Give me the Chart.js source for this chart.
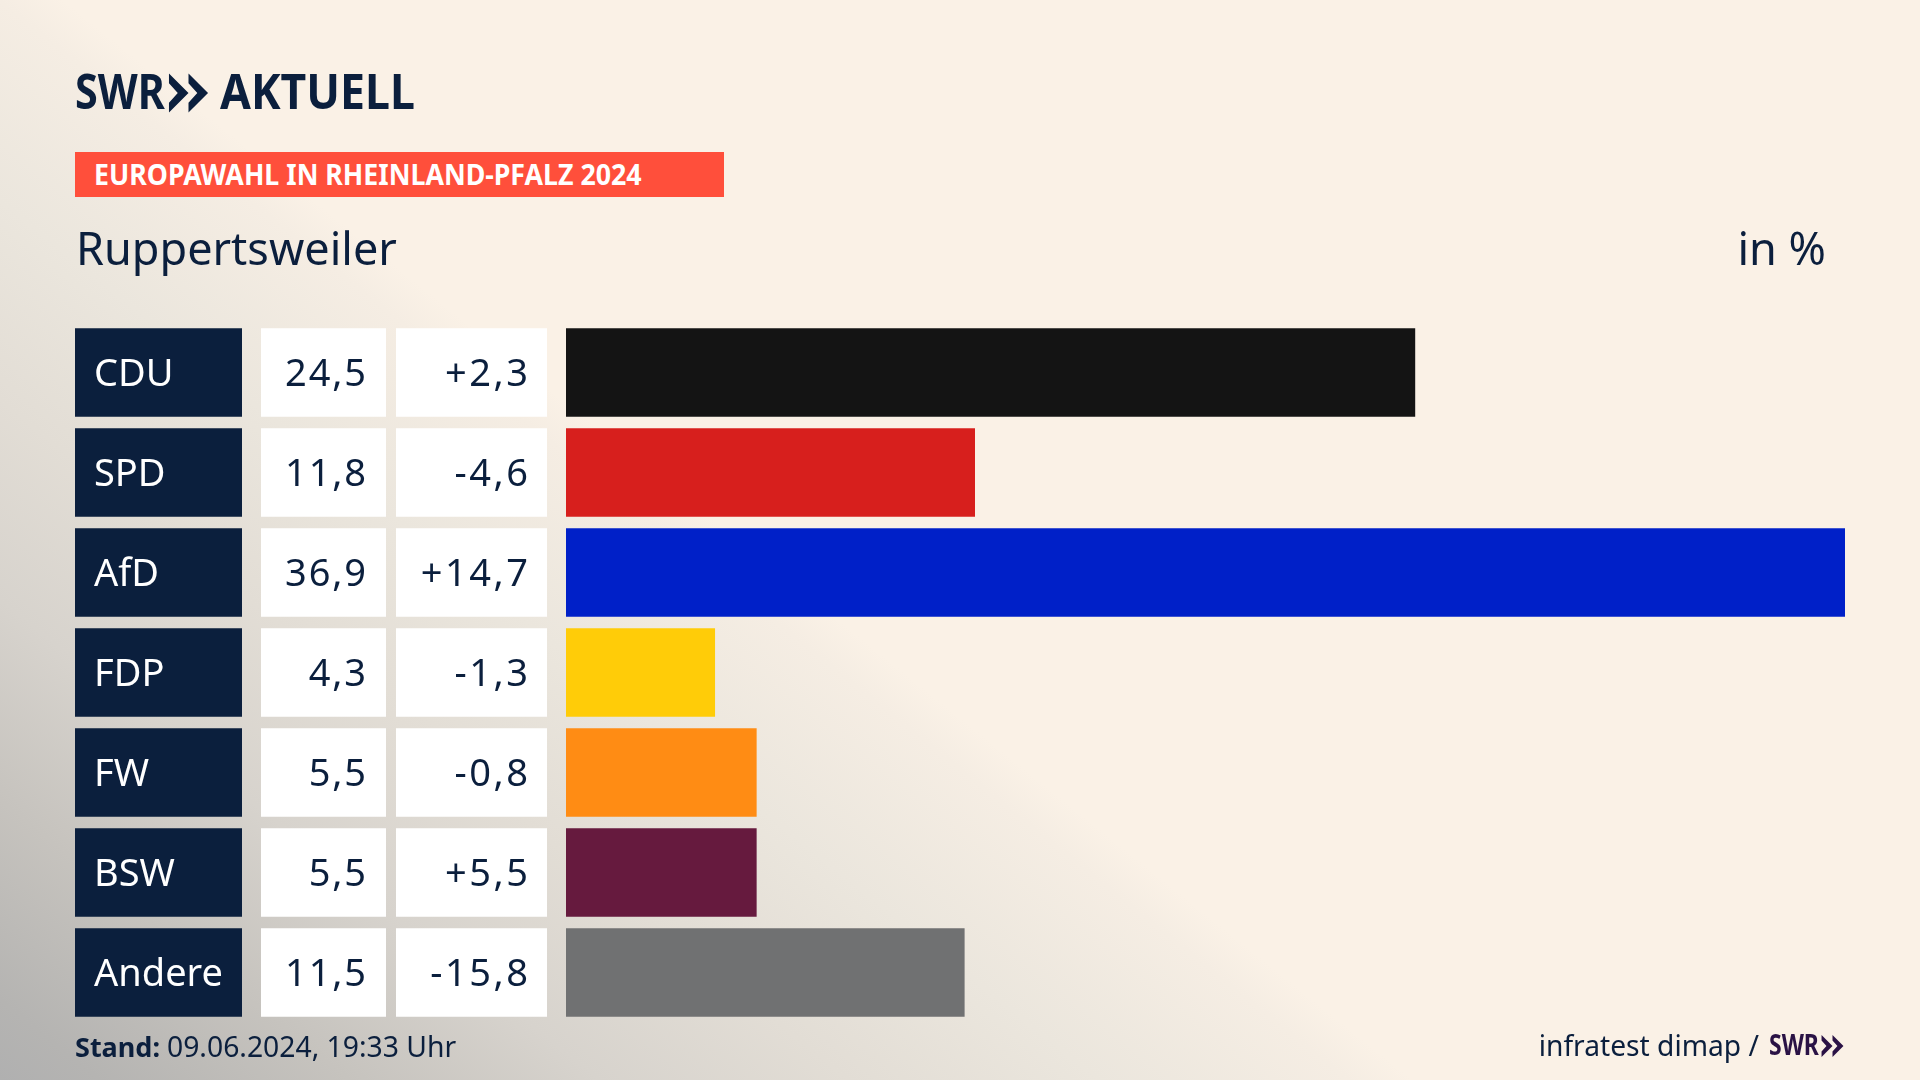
<!DOCTYPE html>
<html lang="de">
<head>
<meta charset="utf-8">
<title>Europawahl in Rheinland-Pfalz 2024 - Ruppertsweiler</title>
<script src="https://cdn.jsdelivr.net/npm/chart.js@4"></script>
<style>
  html, body { margin: 0; padding: 0; }
  body {
    width: 1920px; height: 1080px; overflow: hidden; position: relative;
    font-family: "Noto Sans", sans-serif; color: #0b1f3d;
    background: linear-gradient(218.66deg,
      #faf1e6 1160px, #f5ede3 1200px, #ebe6dd 1356px, #e2ddd5 1512px,
      #d7d3cd 1668px, #c6c3be 1824px, #b5b4b2 1980px, #b0b0b0 2043px);
  }
  #myChart { position: absolute; left: 0; top: 0; }
  .txt { position: absolute; white-space: nowrap; line-height: 1; }
  .logo { font-weight: 700; transform-origin: left top; }
  #tag { position: absolute; left: 75px; top: 152px; width: 649px; height: 45px; background: #ff4f3b; }
  svg { position: absolute; }
</style>
</head>
<body>
<canvas id="myChart" width="1920" height="1080"></canvas>

<div class="txt logo" style="left:75px; top:67px; font-size:48px; transform:scaleX(0.86);">SWR</div>
<svg style="left:168px; top:73px;" width="41" height="40" viewBox="0 0 42 40">
  <path d="M1 0 L21 20 L1 40 L1 30 L10 20 L1 10 Z M21 0 L41 20 L21 40 L21 30 L30 20 L21 10 Z" fill="#0b1f3d"/>
</svg>
<div class="txt logo" style="left:220px; top:67px; font-size:48px; transform:scaleX(0.93);">AKTUELL</div>

<div id="tag"></div>
<div class="txt" style="left:94px; top:160px; font-size:28px; font-weight:700; color:#fff; transform-origin:left top; transform:scaleX(0.955);">EUROPAWAHL IN RHEINLAND-PFALZ 2024</div>

<div class="txt" style="left:76px; top:225px; font-size:45px;">Ruppertsweiler</div>
<div class="txt" style="right:94px; top:225px; font-size:45px;">in %</div>

<div class="txt" style="left:75px; top:1033px; font-size:27px; font-weight:700;">Stand:</div>
<div class="txt" style="left:167px; top:1032px; font-size:28.3px;">09.06.2024, 19:33 Uhr</div>
<div class="txt" style="right:161px; top:1031px; font-size:28.2px;">infratest dimap /</div>
<div class="txt logo" style="left:1769px; top:1030px; font-size:28px; color:#2a1245; transform:scaleX(0.82);">SWR</div>
<svg style="left:1821px; top:1035px;" width="23" height="22" viewBox="0 0 42 40">
  <path d="M1 0 L21 20 L1 40 L1 30 L10 20 L1 10 Z M21 0 L41 20 L21 40 L21 30 L30 20 L21 10 Z" fill="#2a1245"/>
</svg>

<script>
const parties = ["CDU", "SPD", "AfD", "FDP", "FW", "BSW", "Andere"];
const shares = [24.5, 11.8, 36.9, 4.3, 5.5, 5.5, 11.5];
const changes = [2.3, -4.6, 14.7, -1.3, -0.8, 5.5, -15.8];
const partyColors = ["#141414", "#d71f1d", "#0020c8", "#ffcc08", "#ff8c14", "#661a3e", "#707172"];

const navy = "#0b1f3d";
const rowHeight = 88.5;

function formatShare(v) {
  return v.toFixed(1).replace(".", ",");
}

function formatChange(v) {
  return (v > 0 ? "+" : "") + v.toFixed(1).replace(".", ",");
}

// the three table columns left of the bars, one row per category
const tablePlugin = {
  id: "tableColumns",
  afterDatasetsDraw(chart) {
    const ctx = chart.ctx;
    const yScale = chart.scales.y;
    ctx.save();
    ctx.font = '38px "Noto Sans"';
    ctx.textBaseline = "alphabetic";
    parties.forEach((party, i) => {
      const mid = yScale.getPixelForValue(i);
      const top = mid - rowHeight / 2;
      const base = mid + 13;

      ctx.fillStyle = navy;
      ctx.fillRect(75, top, 167, rowHeight);
      ctx.fillStyle = "#fff";
      ctx.fillRect(261, top, 125, rowHeight);
      ctx.fillRect(396, top, 151, rowHeight);

      ctx.textAlign = "left";
      ctx.letterSpacing = "0px";
      ctx.fillText(party, 94, base);

      ctx.fillStyle = navy;
      ctx.textAlign = "right";
      ctx.letterSpacing = "1.9px";
      ctx.fillText(formatShare(shares[i]), 368, base);
      ctx.letterSpacing = "2.5px";
      ctx.fillText(formatChange(changes[i]), 530.5, base);
    });
    ctx.restore();
  },
};

const chart = new Chart(document.getElementById("myChart").getContext("2d"), {
  type: "bar",
  data: {
    labels: parties,
    datasets: [{
      data: shares,
      backgroundColor: partyColors,
      borderWidth: 0,
      barPercentage: rowHeight / 100,
      categoryPercentage: 1,
    }],
  },
  options: {
    indexAxis: "y",
    responsive: false,
    animation: false,
    events: [],
    layout: {
      padding: { left: 566, right: 75, top: 322.5, bottom: 57.5 },
    },
    scales: {
      x: { display: false, min: 0, max: 36.9 },
      y: { display: false },
    },
    plugins: {
      legend: { display: false },
      tooltip: { enabled: false },
      title: { display: false },
    },
  },
  plugins: [tablePlugin],
});
</script>
</body>
</html>
